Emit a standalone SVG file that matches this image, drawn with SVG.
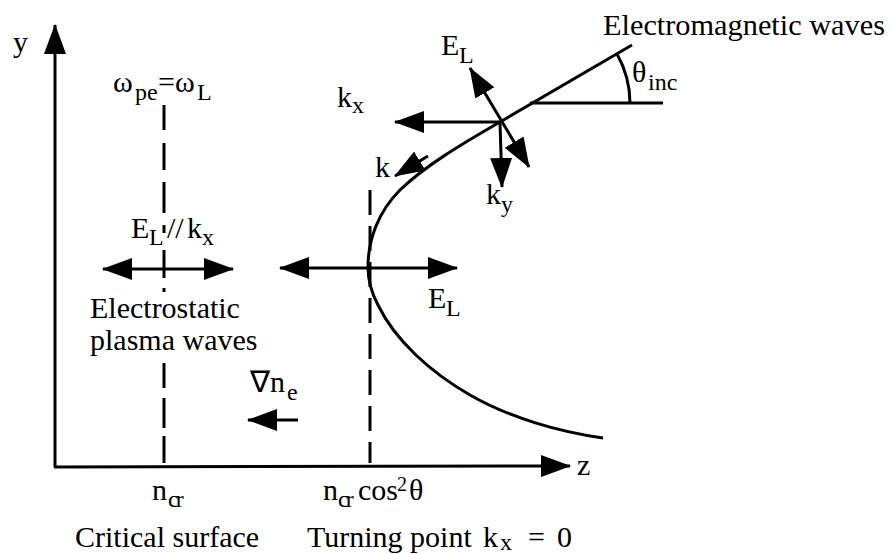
<svg xmlns="http://www.w3.org/2000/svg" width="892" height="554" viewBox="0 0 892 554">
<style>
text{font-family:'Liberation Serif','Times New Roman',serif;font-size:30px;fill:#000}
.s{font-size:24px}
.ln{stroke:#000;stroke-width:3;fill:none}
.ar{stroke:#000;stroke-width:3;fill:none;marker-end:url(#ah)}
.da{stroke:#000;stroke-width:3;fill:none;marker-start:url(#ah);marker-end:url(#ah)}
</style>
<defs>
<marker id="ah" viewBox="0 0 30 22" markerWidth="30" markerHeight="22" refX="29" refY="11" markerUnits="userSpaceOnUse" orient="auto-start-reverse">
<path d="M0,0 L30,11 L0,22 Z" fill="#000"/>
</marker>
</defs>
<rect width="892" height="554" fill="#fff"/>
<g id="connectors">
<line id="y-axis" class="ar" x1="55" y1="467" x2="55" y2="25"/>
<line id="z-axis" class="ar" x1="54" y1="467" x2="570" y2="466"/>
<path id="critical-dash" class="ln" d="M164,105V130M164,143V170M164,182V213M164,225V233M164,250V278M164,288V292M164,363V388M164,398V428M164,436V463"/>
<line id="turning-dash" class="ln" x1="370" y1="190" x2="370" y2="463" stroke-dasharray="25 11"/>
<path id="ray" class="ln" d="M603,438 C560,432 510,418 470,395 C430,372 395,340 378,305 C370,290 368,278 368,267 C368,240 378,212 400,190 C425,166 460,145 500,122 L632,45" stroke-width="3.5"/>
<line id="ref-horiz" class="ln" x1="530" y1="103" x2="663" y2="103"/>
<path id="theta-arc" class="ln" d="M630,103 A100,100 0 0 0 617,54"/>
<line id="kx-arrow" class="ar" x1="500" y1="122" x2="395" y2="122"/>
<line id="ky-arrow" class="ar" x1="500" y1="122" x2="502" y2="187"/>
<line id="EL-top-arrow" class="da" x1="470" y1="68" x2="529" y2="167"/>
<line id="k-arrow" class="ar" x1="428" y1="156" x2="395" y2="176"/>
<line id="EL-left-arrow" class="da" x1="103" y1="269" x2="233" y2="269"/>
<line id="EL-mid-arrow" class="da" x1="280" y1="268" x2="457" y2="268"/>
<line id="grad-arrow" class="ar" x1="298" y1="420" x2="248" y2="420"/>
</g>
<g id="label-y"><text x="13" y="52">y</text></g>
<g id="label-z"><text x="577" y="475">z</text></g>
<g id="label-omega"><text><tspan x="113" y="92">ω</tspan><tspan class="s" x="135" y="100">pe</tspan><tspan x="158" y="92">=</tspan><tspan x="175" y="92">ω</tspan><tspan class="s" x="197" y="100">L</tspan></text></g>
<g id="label-kx"><text><tspan x="337" y="107">k</tspan><tspan class="s" x="352" y="113">x</tspan></text></g>
<g id="label-EL-top"><text><tspan x="441" y="55">E</tspan><tspan class="s" x="459" y="63">L</tspan></text></g>
<g id="label-em"><text x="603" y="35" textLength="282" lengthAdjust="spacingAndGlyphs">Electromagnetic waves</text></g>
<g id="label-theta"><text><tspan x="632" y="82">θ</tspan><tspan class="s" x="648" y="90">inc</tspan></text></g>
<g id="label-k"><text x="375" y="177">k</text></g>
<g id="label-ky"><text><tspan x="486" y="204">k</tspan><tspan class="s" x="501" y="212">y</tspan></text></g>
<g id="label-EL-kx"><text><tspan x="131" y="238">E</tspan><tspan class="s" x="149" y="245">L</tspan><tspan x="167" y="238">//</tspan><tspan x="187" y="238">k</tspan><tspan class="s" x="202" y="245">x</tspan></text></g>
<g id="label-electrostatic"><text x="90" y="318">Electrostatic</text><text x="90" y="350">plasma waves</text></g>
<g id="label-EL-mid"><text><tspan x="428" y="308">E</tspan><tspan class="s" x="446" y="316">L</tspan></text></g>
<g id="label-grad"><text><tspan x="250" y="392">∇</tspan><tspan x="270" y="392">n</tspan><tspan class="s" x="287" y="400">e</tspan></text></g>
<g id="label-ncr"><text><tspan x="152" y="500">n</tspan><tspan class="s" x="168" y="507" letter-spacing="-3">cr</tspan></text></g>
<g id="label-ncrcos"><text><tspan x="323" y="500">n</tspan><tspan class="s" x="338" y="507" letter-spacing="-3">cr</tspan><tspan x="358" y="500">cos</tspan><tspan x="397" y="491" style="font-size:20px">2</tspan><tspan x="409" y="500">θ</tspan></text></g>
<g id="label-critical"><text x="75" y="547">Critical surface</text></g>
<g id="label-turning"><text><tspan x="307" y="547">Turning point</tspan><tspan x="483" y="547">k</tspan><tspan class="s" x="500" y="550">x</tspan><tspan x="528" y="547">=</tspan><tspan x="557" y="547">0</tspan></text></g>
</svg>
